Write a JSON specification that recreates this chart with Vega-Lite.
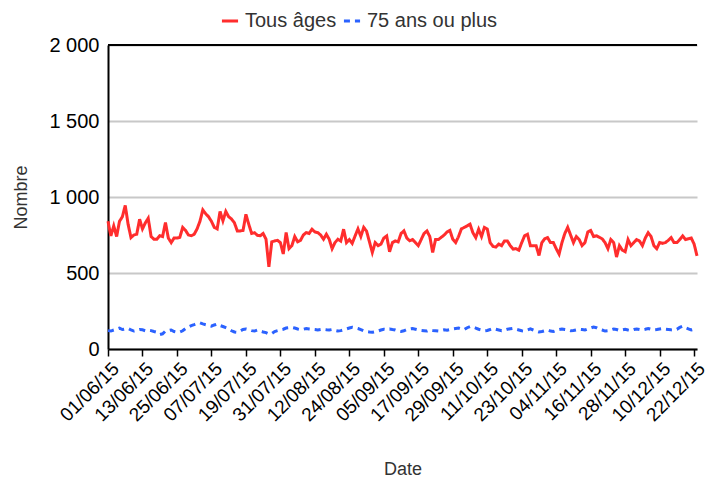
{
"$schema": "https://vega.github.io/schema/vega-lite/v6.json",
"width": 589, "height": 304,
"autosize": "none",
"padding": {"left": 108, "top": 45, "right": 15, "bottom": 134},
"config": {"view": {"stroke": null}, "font": "Liberation Sans"},
"data": {"values": [
{"d":"2015-06-01","tous":840,"p75":121},{"d":"2015-06-02","tous":744,"p75":118},{"d":"2015-06-03","tous":810,"p75":125},{"d":"2015-06-04","tous":740,"p75":130},{"d":"2015-06-05","tous":840,"p75":137},{"d":"2015-06-06","tous":870,"p75":128},{"d":"2015-06-07","tous":945,"p75":132},{"d":"2015-06-08","tous":820,"p75":135},{"d":"2015-06-09","tous":733,"p75":125},{"d":"2015-06-10","tous":750,"p75":118},
{"d":"2015-06-11","tous":755,"p75":122},{"d":"2015-06-12","tous":854,"p75":128},{"d":"2015-06-13","tous":790,"p75":126},{"d":"2015-06-14","tous":830,"p75":120},{"d":"2015-06-15","tous":860,"p75":124},{"d":"2015-06-16","tous":740,"p75":121},{"d":"2015-06-17","tous":722,"p75":115},{"d":"2015-06-18","tous":722,"p75":110},{"d":"2015-06-19","tous":745,"p75":95},{"d":"2015-06-20","tous":740,"p75":100},
{"d":"2015-06-21","tous":832,"p75":118},{"d":"2015-06-22","tous":730,"p75":121},{"d":"2015-06-23","tous":700,"p75":125},{"d":"2015-06-24","tous":730,"p75":115},{"d":"2015-06-25","tous":730,"p75":110},{"d":"2015-06-26","tous":735,"p75":112},{"d":"2015-06-27","tous":800,"p75":120},{"d":"2015-06-28","tous":780,"p75":135},{"d":"2015-06-29","tous":750,"p75":145},{"d":"2015-06-30","tous":745,"p75":154},
{"d":"2015-07-01","tous":755,"p75":160},{"d":"2015-07-02","tous":790,"p75":168},{"d":"2015-07-03","tous":840,"p75":172},{"d":"2015-07-04","tous":915,"p75":165},{"d":"2015-07-05","tous":890,"p75":160},{"d":"2015-07-06","tous":870,"p75":155},{"d":"2015-07-07","tous":840,"p75":150},{"d":"2015-07-08","tous":800,"p75":158},{"d":"2015-07-09","tous":790,"p75":165},{"d":"2015-07-10","tous":905,"p75":154},
{"d":"2015-07-11","tous":843,"p75":148},{"d":"2015-07-12","tous":905,"p75":140},{"d":"2015-07-13","tous":870,"p75":132},{"d":"2015-07-14","tous":855,"p75":120},{"d":"2015-07-15","tous":830,"p75":112},{"d":"2015-07-16","tous":777,"p75":110},{"d":"2015-07-17","tous":777,"p75":118},{"d":"2015-07-18","tous":780,"p75":128},{"d":"2015-07-19","tous":886,"p75":132},{"d":"2015-07-20","tous":820,"p75":128},
{"d":"2015-07-21","tous":760,"p75":121},{"d":"2015-07-22","tous":765,"p75":118},{"d":"2015-07-23","tous":748,"p75":125},{"d":"2015-07-24","tous":745,"p75":118},{"d":"2015-07-25","tous":760,"p75":112},{"d":"2015-07-26","tous":722,"p75":108},{"d":"2015-07-27","tous":540,"p75":99},{"d":"2015-07-28","tous":705,"p75":102},{"d":"2015-07-29","tous":711,"p75":115},{"d":"2015-07-30","tous":715,"p75":121},
{"d":"2015-07-31","tous":700,"p75":126},{"d":"2015-08-01","tous":625,"p75":130},{"d":"2015-08-02","tous":766,"p75":138},{"d":"2015-08-03","tous":660,"p75":140},{"d":"2015-08-04","tous":680,"p75":142},{"d":"2015-08-05","tous":740,"p75":138},{"d":"2015-08-06","tous":705,"p75":132},{"d":"2015-08-07","tous":715,"p75":128},{"d":"2015-08-08","tous":750,"p75":130},{"d":"2015-08-09","tous":766,"p75":135},
{"d":"2015-08-10","tous":760,"p75":132},{"d":"2015-08-11","tous":788,"p75":130},{"d":"2015-08-12","tous":770,"p75":128},{"d":"2015-08-13","tous":766,"p75":125},{"d":"2015-08-14","tous":750,"p75":128},{"d":"2015-08-15","tous":722,"p75":130},{"d":"2015-08-16","tous":755,"p75":127},{"d":"2015-08-17","tous":722,"p75":125},{"d":"2015-08-18","tous":660,"p75":128},{"d":"2015-08-19","tous":700,"p75":122},
{"d":"2015-08-20","tous":722,"p75":118},{"d":"2015-08-21","tous":710,"p75":121},{"d":"2015-08-22","tous":788,"p75":126},{"d":"2015-08-23","tous":700,"p75":132},{"d":"2015-08-24","tous":720,"p75":138},{"d":"2015-08-25","tous":695,"p75":143},{"d":"2015-08-26","tous":744,"p75":140},{"d":"2015-08-27","tous":790,"p75":135},{"d":"2015-08-28","tous":740,"p75":128},{"d":"2015-08-29","tous":800,"p75":120},
{"d":"2015-08-30","tous":775,"p75":115},{"d":"2015-08-31","tous":705,"p75":112},{"d":"2015-09-01","tous":635,"p75":110},{"d":"2015-09-02","tous":700,"p75":114},{"d":"2015-09-03","tous":680,"p75":118},{"d":"2015-09-04","tous":690,"p75":125},{"d":"2015-09-05","tous":730,"p75":130},{"d":"2015-09-06","tous":744,"p75":128},{"d":"2015-09-07","tous":640,"p75":132},{"d":"2015-09-08","tous":700,"p75":128},
{"d":"2015-09-09","tous":711,"p75":125},{"d":"2015-09-10","tous":705,"p75":118},{"d":"2015-09-11","tous":760,"p75":115},{"d":"2015-09-12","tous":777,"p75":120},{"d":"2015-09-13","tous":730,"p75":128},{"d":"2015-09-14","tous":712,"p75":132},{"d":"2015-09-15","tous":720,"p75":135},{"d":"2015-09-16","tous":700,"p75":130},{"d":"2015-09-17","tous":680,"p75":125},{"d":"2015-09-18","tous":720,"p75":122},
{"d":"2015-09-19","tous":760,"p75":120},{"d":"2015-09-20","tous":777,"p75":118},{"d":"2015-09-21","tous":740,"p75":125},{"d":"2015-09-22","tous":635,"p75":122},{"d":"2015-09-23","tous":720,"p75":120},{"d":"2015-09-24","tous":720,"p75":118},{"d":"2015-09-25","tous":735,"p75":122},{"d":"2015-09-26","tous":750,"p75":126},{"d":"2015-09-27","tous":770,"p75":124},{"d":"2015-09-28","tous":780,"p75":128},
{"d":"2015-09-29","tous":722,"p75":132},{"d":"2015-09-30","tous":700,"p75":135},{"d":"2015-10-01","tous":740,"p75":138},{"d":"2015-10-02","tous":790,"p75":132},{"d":"2015-10-03","tous":800,"p75":128},{"d":"2015-10-04","tous":810,"p75":140},{"d":"2015-10-05","tous":821,"p75":148},{"d":"2015-10-06","tous":765,"p75":145},{"d":"2015-10-07","tous":733,"p75":138},{"d":"2015-10-08","tous":788,"p75":130},
{"d":"2015-10-09","tous":740,"p75":125},{"d":"2015-10-10","tous":800,"p75":120},{"d":"2015-10-11","tous":790,"p75":122},{"d":"2015-10-12","tous":700,"p75":128},{"d":"2015-10-13","tous":675,"p75":135},{"d":"2015-10-14","tous":670,"p75":130},{"d":"2015-10-15","tous":690,"p75":125},{"d":"2015-10-16","tous":680,"p75":120},{"d":"2015-10-17","tous":711,"p75":124},{"d":"2015-10-18","tous":711,"p75":130},
{"d":"2015-10-19","tous":680,"p75":133},{"d":"2015-10-20","tous":657,"p75":136},{"d":"2015-10-21","tous":660,"p75":130},{"d":"2015-10-22","tous":650,"p75":125},{"d":"2015-10-23","tous":700,"p75":120},{"d":"2015-10-24","tous":745,"p75":118},{"d":"2015-10-25","tous":755,"p75":125},{"d":"2015-10-26","tous":680,"p75":132},{"d":"2015-10-27","tous":680,"p75":125},{"d":"2015-10-28","tous":680,"p75":118},
{"d":"2015-10-29","tous":615,"p75":112},{"d":"2015-10-30","tous":700,"p75":115},{"d":"2015-10-31","tous":725,"p75":120},{"d":"2015-11-01","tous":733,"p75":125},{"d":"2015-11-02","tous":700,"p75":118},{"d":"2015-11-03","tous":700,"p75":115},{"d":"2015-11-04","tous":660,"p75":122},{"d":"2015-11-05","tous":624,"p75":128},{"d":"2015-11-06","tous":700,"p75":132},{"d":"2015-11-07","tous":760,"p75":128},
{"d":"2015-11-08","tous":800,"p75":125},{"d":"2015-11-09","tous":750,"p75":120},{"d":"2015-11-10","tous":700,"p75":122},{"d":"2015-11-11","tous":740,"p75":126},{"d":"2015-11-12","tous":720,"p75":130},{"d":"2015-11-13","tous":680,"p75":128},{"d":"2015-11-14","tous":700,"p75":125},{"d":"2015-11-15","tous":770,"p75":132},{"d":"2015-11-16","tous":780,"p75":138},{"d":"2015-11-17","tous":740,"p75":145},
{"d":"2015-11-18","tous":745,"p75":140},{"d":"2015-11-19","tous":735,"p75":130},{"d":"2015-11-20","tous":725,"p75":125},{"d":"2015-11-21","tous":700,"p75":118},{"d":"2015-11-22","tous":660,"p75":120},{"d":"2015-11-23","tous":720,"p75":126},{"d":"2015-11-24","tous":700,"p75":132},{"d":"2015-11-25","tous":605,"p75":128},{"d":"2015-11-26","tous":680,"p75":122},{"d":"2015-11-27","tous":650,"p75":126},
{"d":"2015-11-28","tous":640,"p75":130},{"d":"2015-11-29","tous":720,"p75":125},{"d":"2015-11-30","tous":680,"p75":122},{"d":"2015-12-01","tous":700,"p75":128},{"d":"2015-12-02","tous":720,"p75":132},{"d":"2015-12-03","tous":710,"p75":128},{"d":"2015-12-04","tous":680,"p75":126},{"d":"2015-12-05","tous":730,"p75":130},{"d":"2015-12-06","tous":765,"p75":135},{"d":"2015-12-07","tous":740,"p75":130},
{"d":"2015-12-08","tous":680,"p75":126},{"d":"2015-12-09","tous":660,"p75":128},{"d":"2015-12-10","tous":700,"p75":132},{"d":"2015-12-11","tous":695,"p75":135},{"d":"2015-12-12","tous":700,"p75":130},{"d":"2015-12-13","tous":715,"p75":128},{"d":"2015-12-14","tous":733,"p75":126},{"d":"2015-12-15","tous":700,"p75":125},{"d":"2015-12-16","tous":700,"p75":130},{"d":"2015-12-17","tous":720,"p75":142},
{"d":"2015-12-18","tous":744,"p75":150},{"d":"2015-12-19","tous":720,"p75":140},{"d":"2015-12-20","tous":725,"p75":132},{"d":"2015-12-21","tous":730,"p75":125},{"d":"2015-12-22","tous":690,"p75":130},{"d":"2015-12-23","tous":613,"p75":135}
]},
"transform": [{"fold": ["tous", "p75"], "as": ["key", "value"]}],
"layer": [
{"mark": {"type": "line", "strokeWidth": 3, "strokeCap": "butt"},
 "encoding": {
  "x": {"field": "d", "type": "temporal", "scale": {"type": "utc", "nice": false},
   "axis": {"title": "Date", "labelExpr": "utcFormat(datum.value, '%d/%m/%y')",
    "values": [{"year":2015,"month":6,"date":1,"utc":true},{"year":2015,"month":6,"date":13,"utc":true},{"year":2015,"month":6,"date":25,"utc":true},{"year":2015,"month":7,"date":7,"utc":true},{"year":2015,"month":7,"date":19,"utc":true},{"year":2015,"month":7,"date":31,"utc":true},{"year":2015,"month":8,"date":12,"utc":true},{"year":2015,"month":8,"date":24,"utc":true},{"year":2015,"month":9,"date":5,"utc":true},{"year":2015,"month":9,"date":17,"utc":true},{"year":2015,"month":9,"date":29,"utc":true},{"year":2015,"month":10,"date":11,"utc":true},{"year":2015,"month":10,"date":23,"utc":true},{"year":2015,"month":11,"date":4,"utc":true},{"year":2015,"month":11,"date":16,"utc":true},{"year":2015,"month":11,"date":28,"utc":true},{"year":2015,"month":12,"date":10,"utc":true},{"year":2015,"month":12,"date":22,"utc":true}],
    "labelAngle": -45, "labelFontSize": 19, "labelColor": "#000", "labelPadding": 3, "labelOffset": 1,
    "grid": false, "domainColor": "#000", "domainWidth": 2, "tickColor": "#000", "tickWidth": 1.5, "tickSize": 7,
    "labelOverlap": false, "labelFlush": false,
    "titleFontSize": 18, "titleFontWeight": "normal", "titleColor": "#333", "titlePadding": 36}},
  "y": {"field": "value", "type": "quantitative", "scale": {"domain": [0, 2000]},
   "axis": {"title": "Nombre", "values": [0, 500, 1000, 1500, 2000],
    "labelExpr": "replace(format(datum.value, ','), ',', ' ')",
    "grid": true, "gridColor": "#c8c8c8", "gridWidth": 2,
    "domainColor": "#000", "domainWidth": 2, "ticks": false,
    "labelFontSize": 20, "labelColor": "#000", "labelPadding": 9,
    "titleFontSize": 18, "titleFontWeight": "normal", "titleColor": "#333", "titlePadding": 18}},
  "color": {"field": "key", "type": "nominal",
   "scale": {"domain": ["tous", "p75"], "range": ["#ff2d2d", "#2b62ff"]},
   "legend": {"title": null, "orient": "none", "legendX": 112, "legendY": -34, "direction": "horizontal",
    "labelExpr": "datum.label == 'tous' ? 'Tous âges' : '75 ans ou plus'",
    "symbolType": "stroke", "symbolStrokeWidth": 3, "symbolSize": 260, "labelFontSize": 20, "labelColor": "#333", "columnPadding": 0, "labelOffset": 5}},
  "strokeDash": {"field": "key", "type": "nominal",
   "scale": {"domain": ["tous", "p75"], "range": [[1, 0], [6, 5]]},
   "legend": {"title": null, "orient": "none", "legendX": 112, "legendY": -34, "direction": "horizontal",
    "labelExpr": "datum.label == 'tous' ? 'Tous âges' : '75 ans ou plus'",
    "symbolType": "stroke", "symbolStrokeWidth": 3, "symbolSize": 260, "labelFontSize": 20, "labelColor": "#333", "columnPadding": 0, "labelOffset": 5}}
 }},
{"mark": {"type": "rule", "color": "#000", "strokeWidth": 2}, "encoding": {"y": {"datum": 2000}}}
]
}
